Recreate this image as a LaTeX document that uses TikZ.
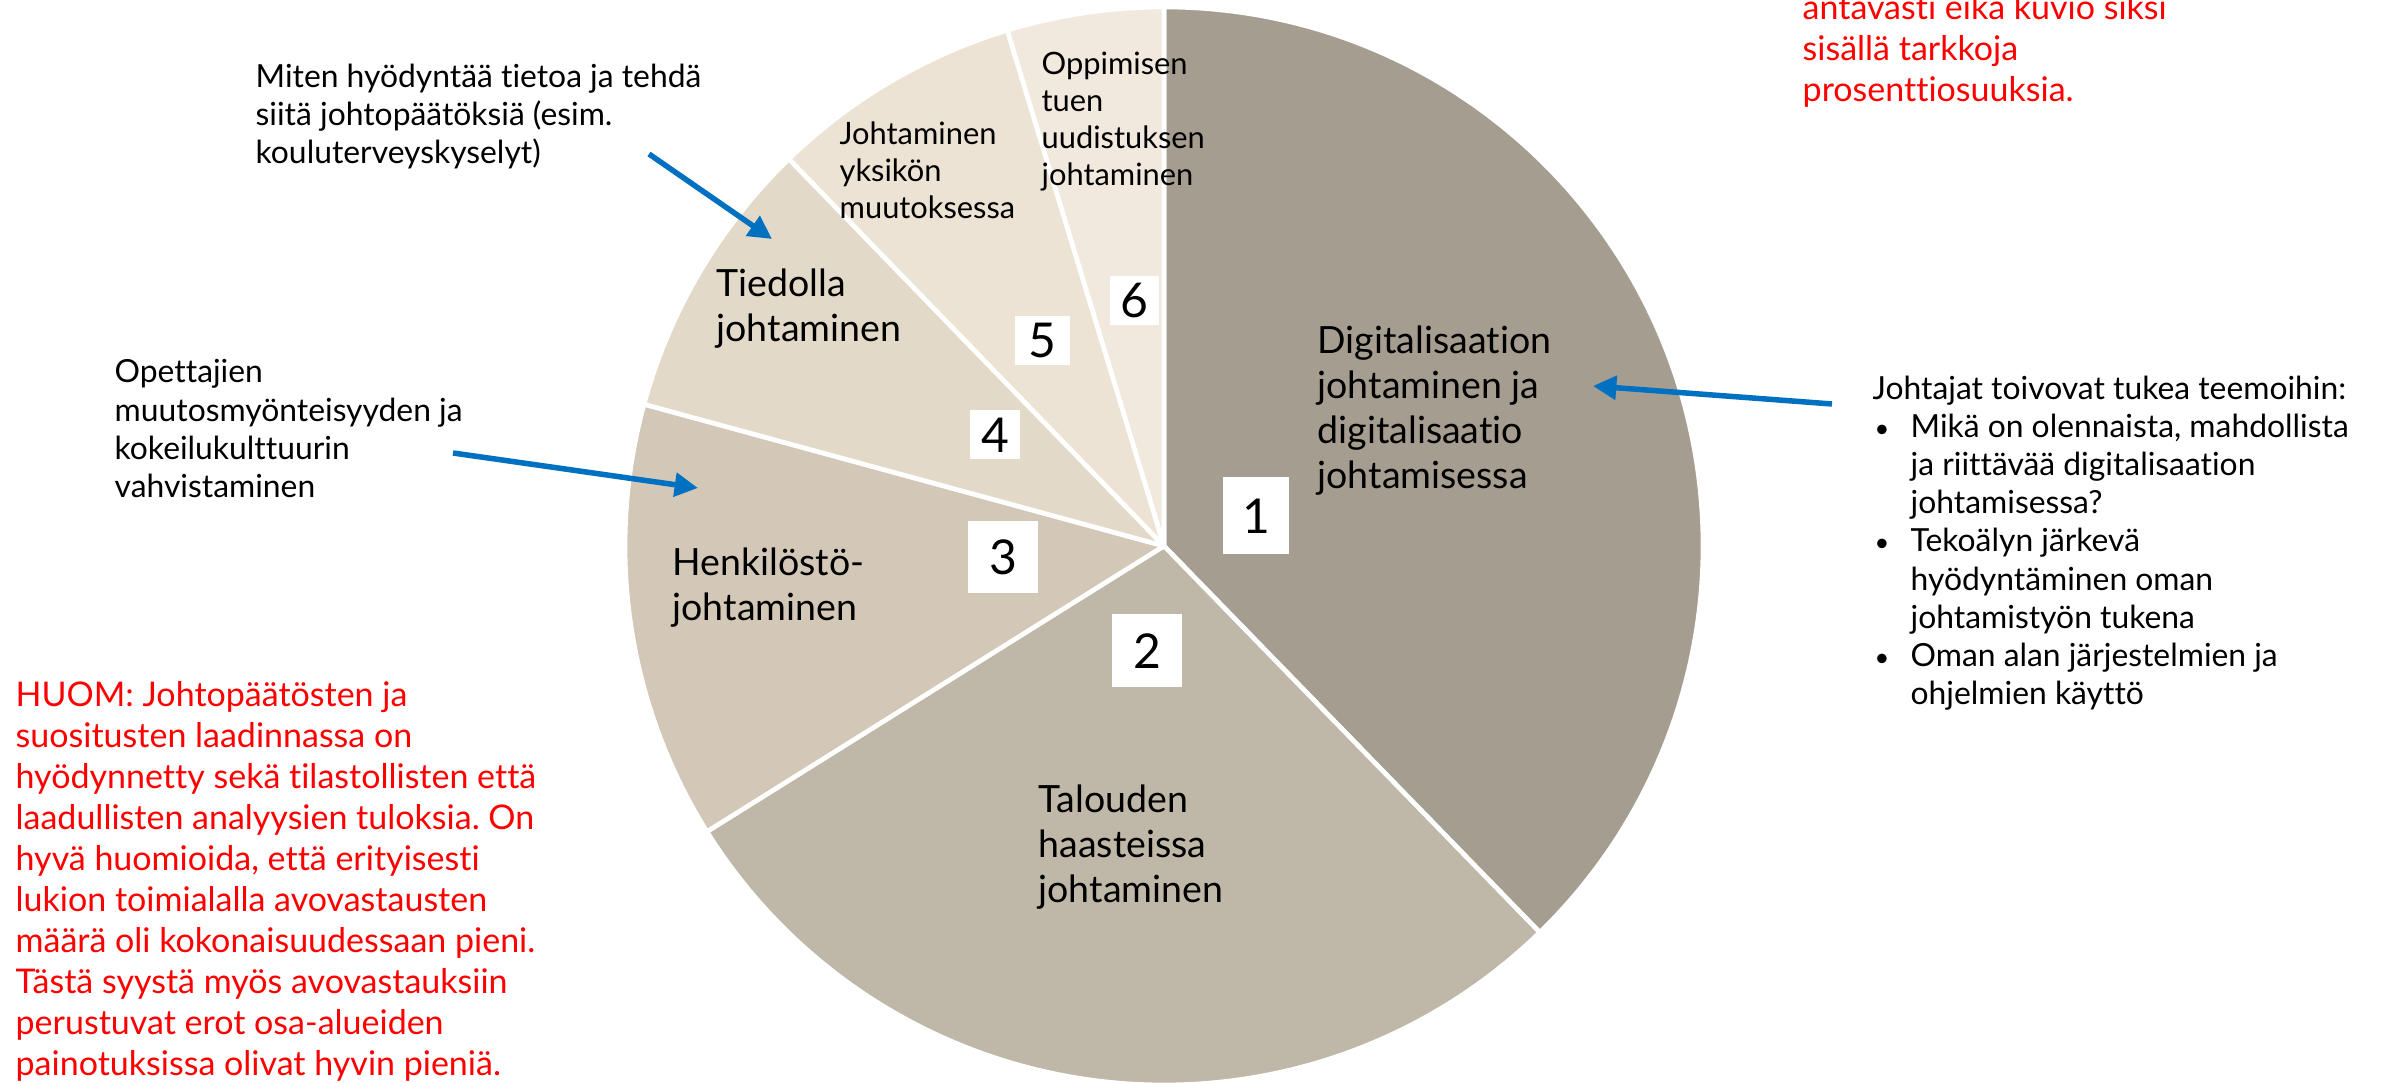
\documentclass[tikz,border=0pt]{standalone}
\usepackage{fontspec}
\setmainfont{Lato}[Ligatures={NoCommon}]
\usetikzlibrary{arrows.meta}
\frenchspacing

\definecolor{slicea}{RGB}{166,157,145}
\definecolor{sliceb}{RGB}{191,183,167}
\definecolor{slicec}{RGB}{211,200,184}
\definecolor{sliced}{RGB}{226,217,200}
\definecolor{slicee}{RGB}{236,227,212}
\definecolor{slicef}{RGB}{241,233,222}
\definecolor{arrowblue}{RGB}{0,112,192}
\definecolor{notered}{RGB}{255,0,0}

\newcommand{\bul}{\makebox[11.4pt][l]{\hspace{0.6pt}\scalebox{0.8}{•}}}
\newcommand{\ind}{\hspace*{11.4pt}}

\tikzset{
  slice/.style={draw=white, line width=1.4pt, line join=round},
  numbox/.style={fill=white, inner sep=0pt, font=\fontsize{14.4}{17}\selectfont},
  biglabel/.style={anchor=north west, inner sep=0pt, align=left, font=\fontsize{11.25}{13.5}\selectfont},
  smalllabel/.style={anchor=north west, inner sep=0pt, align=left, font=\fontsize{9.25}{11.1}\selectfont},
  remark/.style={anchor=north west, inner sep=0pt, align=left, font=\fontsize{9.55}{11.46}\selectfont},
  rednote/.style={anchor=north west, inner sep=0pt, align=left, text=notered, font=\fontsize{10.2}{12.3}\selectfont},
  pointer/.style={draw=arrowblue, line width=1.65pt, -{Triangle[length=7pt,width=7pt]}},
}

\begin{document}
\begin{tikzpicture}[x=0.3pt, y=0.3pt]
  \useasboundingbox (0,0) rectangle (2384,1083);
  \clip (0,0) rectangle (2384,1083);

  % pie
  \coordinate (pc) at (1164,537);
  \foreach \a/\b/\c in {90/-45.8/slicea, -45.8/-148/sliceb, -148/-195.25/slicec,
                        164.75/134.1/sliced, 134.1/106.9/slicee, 106.9/90/slicef}
    \filldraw[slice, fill=\c] (pc) -- ++(\a:539) arc[start angle=\a, end angle=\b, radius=539] -- cycle;

  % slice labels
  \node[biglabel] (digi) at (1317,758) {Digitalisaation\\johtaminen ja\\digitalisaatio\\johtamisessa};
  \node[biglabel] (talous) at (1038,299) {Talouden\\haasteissa\\johtaminen};
  \node[biglabel] (henk) at (672,536) {Henkilöstö-\\johtaminen};
  \node[biglabel] (tieto) at (716,815) {Tiedolla\\johtaminen};
  \node[smalllabel] (yksikko) at (839,962) {Johtaminen\\yksikön\\muutoksessa};
  \node[smalllabel] (oppi) at (1041,1032) {Oppimisen\\tuen\\uudistuksen\\johtaminen};

  % numbers
  \node[numbox, minimum width=19.8pt, minimum height=23.1pt] (n1) at (1256,567) {1};
  \node[numbox, minimum width=21pt, minimum height=21.9pt] (n2) at (1147,432) {2};
  \node[numbox, minimum width=21pt, minimum height=21.6pt] (n3) at (1003,526) {3};
  \node[numbox, minimum width=15pt, minimum height=14.7pt] (n4) at (995,648) {4};
  \node[numbox, minimum width=16.5pt, minimum height=14.7pt] (n5) at (1042,742) {5};
  \node[numbox, minimum width=14.7pt, minimum height=14.7pt] (n6) at (1134,782) {6};

  % remarks
  \node[remark] (miten) at (255,1020) {Miten hyödyntää tietoa ja tehdä\\siitä johtopäätöksiä (esim.\\kouluterveyskyselyt)};
  \node[remark] (opet) at (114,724) {Opettajien\\muutosmyönteisyyden ja\\kokeilukulttuurin\\vahvistaminen};
  \node[remark] (toive) at (1872,708) {Johtajat toivovat tukea teemoihin:\\
    \bul Mikä on olennaista, mahdollista\\\ind ja riittävää digitalisaation\\\ind johtamisessa?\\
    \bul Tekoälyn järkevä\\\ind hyödyntäminen oman\\\ind johtamistyön tukena\\
    \bul Oman alan järjestelmien ja\\\ind ohjelmien käyttö};

  % red notes
  \node[rednote] (varoitus) at (1802,1089) {antavasti eikä kuvio siksi\\sisällä tarkkoja\\prosenttiosuuksia.};
  \node[rednote] (huom) at (15,402) {HUOM: Johtopäätösten ja\\suositusten laadinnassa on\\hyödynnetty sekä tilastollisten että\\laadullisten analyysien tuloksia. On\\hyvä huomioida, että erityisesti\\lukion toimialalla avovastausten\\määrä oli kokonaisuudessaan pieni.\\Tästä syystä myös avovastauksiin\\perustuvat erot osa-alueiden\\painotuksissa olivat hyvin pieniä.};

  % arrows
  \coordinate (mitenA) at (649,929);
  \coordinate (mitenB) at (772,844);
  \coordinate (opetA) at (453,630);
  \coordinate (opetB) at (698,595);
  \coordinate (toiveA) at (1832,679);
  \coordinate (toiveB) at (1593,697);
  \draw[pointer] (mitenA) -- (mitenB);
  \draw[pointer] (opetA) -- (opetB);
  \draw[pointer] (toiveA) -- (toiveB);
\end{tikzpicture}
\end{document}
